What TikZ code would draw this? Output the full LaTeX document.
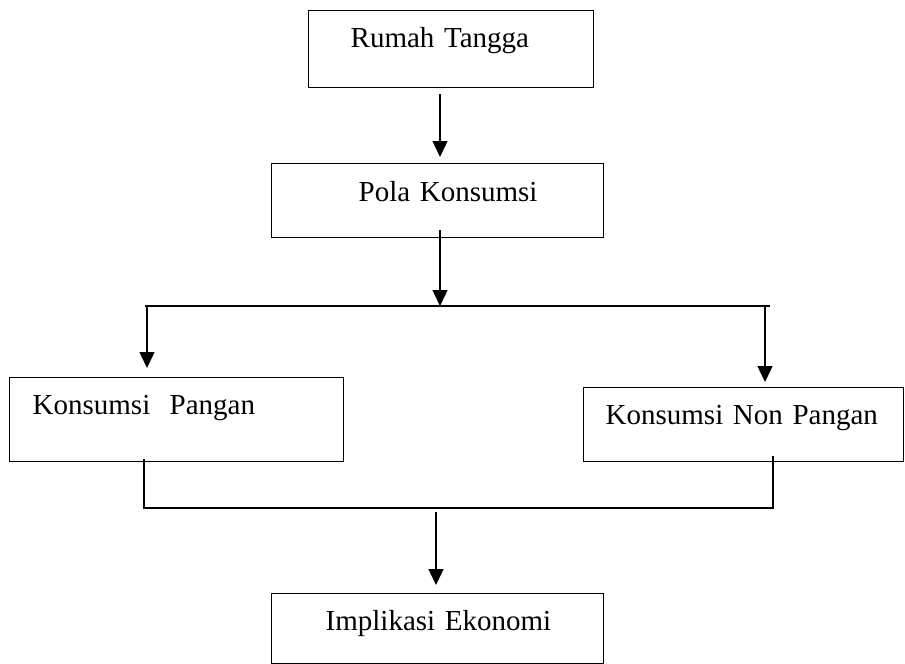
\documentclass[tikz,border=0pt]{standalone}
\usepackage{fontspec}
\setmainfont{Liberation Serif}
\usetikzlibrary{arrows.meta,calc}

\begin{document}
\begin{tikzpicture}[x=1pt,y=-1pt,
	every node/.style={font=\fontsize{29}{34}\selectfont},
	kotak/.style n args={4}{draw,line width=1.4pt,anchor=north west,inner sep=0pt,
		text width=#1,align=left,text height=#3,text depth=#4,
		execute at begin node={\hspace*{#2}}},
	garis/.style={line width=1.4pt},
	panah/.style={garis,-{Triangle[length=16pt,width=15pt]}}]
	\useasboundingbox (0,0) rectangle (905,664);
	% kotak-kotak
	\node[kotak={285pt}{42pt}{37pt}{40pt}] (rumah) at (308,10) {Rumah Tangga};
	\node[kotak={332pt}{87pt}{38pt}{36pt}] (pola) at (271,163) {Pola Konsumsi};
	\node[kotak={334pt}{23pt}{37pt}{47pt}] (pangan) at (9,377) {Konsumsi\ \ Pangan};
	\node[kotak={320pt}{22pt}{37pt}{37pt}] (nonpangan) at (583,387) {Konsumsi Non Pangan};
	\node[kotak={332pt}{54pt}{37pt}{33pt}] (implikasi) at (271,593) {Implikasi Ekonomi};
	% titik cabang
	\coordinate (cabang) at (440,306);
	\coordinate (kiri) at (147,306);
	\coordinate (kanan) at (765,306);
	\coordinate (gabung) at (436,508);
	\coordinate (bkiri) at (144,508);
	\coordinate (bkanan) at (773,508);
	% panah
	\draw[panah,shorten <=6pt,shorten >=6pt] (rumah.south -| cabang) -- (pola.north -| cabang);
	\draw[panah,shorten <=-8pt] (pola.south -| cabang) -- (cabang);
	\draw[garis,shorten <=-2pt,shorten >=-5pt] (kiri) -- (kanan);
	\draw[panah,shorten >=9pt] (kiri) -- (kiri |- pangan.north);
	\draw[panah,shorten >=5pt] (kanan) -- (kanan |- nonpangan.north);
	\draw[garis,shorten <=-3pt,shorten >=-6pt] (bkiri |- pangan.south) -- (bkiri) -- (bkanan) -- (bkanan |- nonpangan.south);
	\draw[panah,shorten <=4pt,shorten >=8pt] (gabung) -- (gabung |- implikasi.north);
\end{tikzpicture}
\end{document}
